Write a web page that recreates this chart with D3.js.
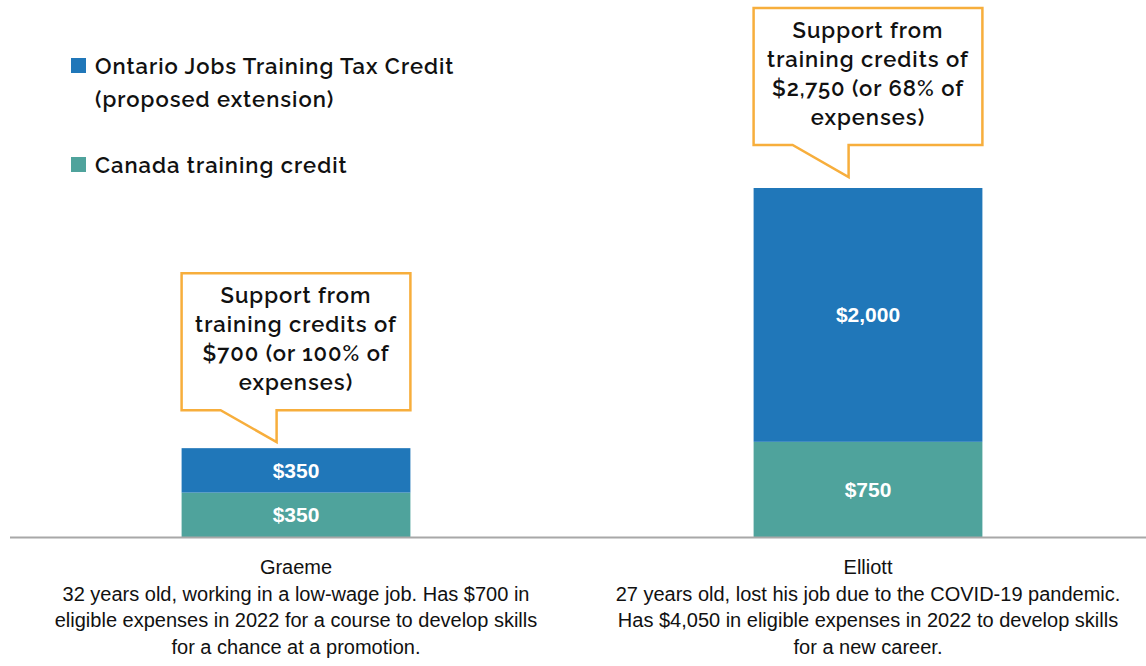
<!DOCTYPE html>
<html lang="en">
<head>
    <meta charset="UTF-8">
    <title>Training credits: Graeme and Elliott</title>
    <script src="https://d3js.org/d3.v7.min.js"></script>
    <style>
        body {
            margin: 0;
            background: #fff;
        }
        .legend-text, .callout-text {
            font-family: Raleway, "Open Sans", Lato, sans-serif;
            font-weight: 600;
            letter-spacing: 1px;
            fill: #111;
        }
        .bar-label {
            font-family: "Liberation Sans Narrow", "Arial Narrow", "Liberation Sans", sans-serif;
            font-weight: bold;
            fill: #fff;
        }
        .cat-label {
            font-family: "Liberation Sans Narrow", "Arial Narrow", "Liberation Sans", sans-serif;
            fill: #111;
        }
    </style>
</head>
<body>
    <svg id="chart" width="1146" height="666"></svg>

    <script>
        const svg = d3.select("#chart");

        // data
        const people = ["Graeme", "Elliott"];
        const canadaCredit = [350, 750];
        const ontarioCredit = [350, 2000];
        const seriesNames = ["Ontario Jobs Training Tax Credit (proposed extension)", "Canada training credit"];
        const calloutLines = [
            ["Support from", "training credits of", "$700 (or 100% of", "expenses)"],
            ["Support from", "training credits of", "$2,750 (or 68% of", "expenses)"]
        ];
        const personLines = [
            ["Graeme", "32 years old, working in a low-wage job. Has $700 in", "eligible expenses in 2022 for a course to develop skills", "for a chance at a promotion."],
            ["Elliott", "27 years old, lost his job due to the COVID-19 pandemic.", "Has $4,050 in eligible expenses in 2022 to develop skills", "for a new career."]
        ];

        const colors = { canada: "#4fa39c", ontario: "#2077b9" };

        const rows = people.map((p, i) => ({
            person: p,
            canada: canadaCredit[i],
            ontario: ontarioCredit[i]
        }));

        const xScale = d3.scaleBand()
            .domain(people)
            .range([10, 1154])
            .paddingInner(0.6)
            .paddingOuter(0.3);

        const yScale = d3.scaleLinear()
            .domain([0, 2750])
            .range([537, 188]);

        const series = d3.stack().keys(["canada", "ontario"])(rows);

        // bars
        const layers = svg.append("g")
            .selectAll("g")
            .data(series)
            .join("g")
            .attr("fill", d => colors[d.key]);

        layers.selectAll("rect")
            .data(d => d)
            .join("rect")
            .attr("x", d => xScale(d.data.person))
            .attr("y", d => yScale(d[1]))
            .attr("width", xScale.bandwidth())
            .attr("height", d => yScale(d[0]) - yScale(d[1]));

        // value labels inside bars
        layers.selectAll("text")
            .data(d => d)
            .join("text")
            .attr("class", "bar-label")
            .attr("x", d => xScale(d.data.person) + xScale.bandwidth() / 2)
            .attr("y", d => (yScale(d[0]) + yScale(d[1])) / 2)
            .attr("dy", "0.36em")
            .attr("text-anchor", "middle")
            .style("font-size", "21px")
            .text(d => "$" + d3.format(",")(d[1] - d[0]));

        // baseline
        svg.append("line")
            .attr("x1", 10).attr("x2", 1146)
            .attr("y1", yScale(0) + 0.5).attr("y2", yScale(0) + 0.5)
            .attr("stroke", "#a8a8a8")
            .attr("stroke-width", 2);

        // callouts above bars
        rows.forEach((d, i) => {
            const left = xScale(d.person);
            const right = left + xScale.bandwidth();
            const top = yScale(d.canada + d.ontario);
            const bottom = top - (i === 0 ? 38 : 43);
            const boxTop = bottom - 137;
            const tipX = left + 95;
            const slantX = left + 39;
            const tipY = top - (i === 0 ? 6 : 11);

            const path = d3.path();
            path.moveTo(left, boxTop);
            path.lineTo(right, boxTop);
            path.lineTo(right, bottom);
            path.lineTo(tipX, bottom);
            path.lineTo(tipX, tipY);
            path.lineTo(slantX, bottom);
            path.lineTo(left, bottom);
            path.closePath();

            svg.append("path")
                .attr("d", path.toString())
                .attr("fill", "#fff")
                .attr("stroke", "#f7ae3c")
                .attr("stroke-width", 2.5)
                .attr("stroke-linejoin", "miter");

            svg.append("text")
                .attr("class", "callout-text")
                .attr("text-anchor", "middle")
                .style("font-size", "22px")
                .selectAll("tspan")
                .data(calloutLines[i])
                .join("tspan")
                .attr("x", (left + right) / 2)
                .attr("y", (l, j) => boxTop + 30 + j * 29)
                .text(l => l);
        });

        // category labels under axis
        people.forEach((p, i) => {
            svg.append("text")
                .attr("class", "cat-label")
                .attr("text-anchor", "middle")
                .style("font-size", "20px")
                .selectAll("tspan")
                .data(personLines[i])
                .join("tspan")
                .attr("x", xScale(p) + xScale.bandwidth() / 2)
                .attr("y", (l, j) => 574 + j * 26.5)
                .text(l => l);
        });

        // legend
        const legendRows = [
            { key: "ontario", lines: ["Ontario Jobs Training Tax Credit", "(proposed extension)"], y: 58 },
            { key: "canada", lines: ["Canada training credit"], y: 157 }
        ];

        const legend = svg.append("g").attr("class", "legend");

        legendRows.forEach(r => {
            legend.append("rect")
                .attr("x", 71)
                .attr("y", r.y)
                .attr("width", 15)
                .attr("height", 15)
                .attr("fill", colors[r.key]);

            legend.append("text")
                .attr("class", "legend-text")
                .style("font-size", "22px")
                .selectAll("tspan")
                .data(r.lines)
                .join("tspan")
                .attr("x", 95)
                .attr("y", (l, j) => r.y + 16 + j * 33)
                .text(l => l);
        });
    </script>
</body>
</html>
